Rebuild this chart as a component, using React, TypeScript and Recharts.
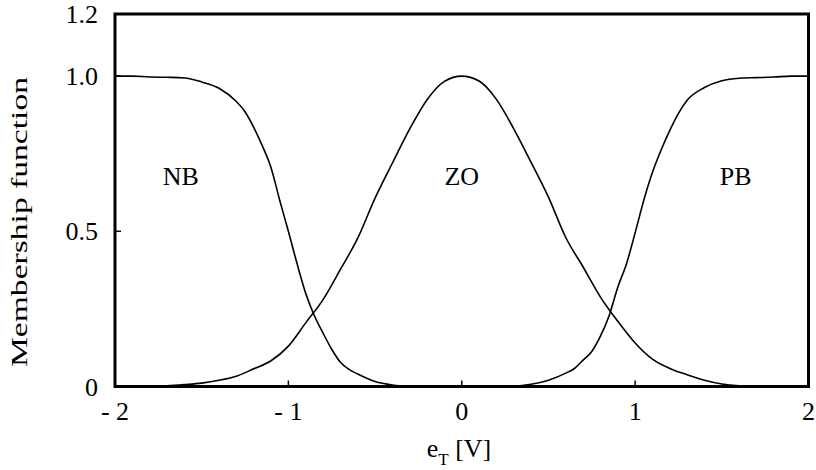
import { LineChart, Line, XAxis, YAxis, ReferenceArea, ReferenceDot } from "recharts";

// NB: negative big, sampled more densely along its steep flank
const nbX = [
  -2, -1.9, -1.8, -1.7, -1.6, -1.5, -1.4, -1.3, -1.25, -1.2, -1.15, -1.1, -1.05, -1, -0.95, -0.9, -0.85, -0.8, -0.75,
  -0.7, -0.65, -0.6, -0.5, -0.4, -0.3, -0.2, 0, 1, 2,
];
const nbY = [
  1, 1, 0.997, 0.996, 0.994, 0.981, 0.961, 0.918, 0.885, 0.835, 0.775, 0.705, 0.6, 0.5, 0.396, 0.3, 0.228, 0.172, 0.12,
  0.078, 0.055, 0.04, 0.016, 0.005, 0.001, 0, 0, 0, 0,
];

// ZO: zero
const zoX = [
  -2, -1.9, -1.8, -1.7, -1.6, -1.5, -1.4, -1.3, -1.2, -1.1, -1, -0.9, -0.8, -0.7, -0.6, -0.5, -0.4, -0.3, -0.2, -0.1,
  0, 0.1, 0.2, 0.3, 0.4, 0.5, 0.6, 0.7, 0.8, 0.9, 1, 1.1, 1.2, 1.3, 1.4, 1.5, 1.6, 1.7, 1.8, 1.9, 2,
];
const zoY = [
  0, 0, 0, 0.002, 0.006, 0.011, 0.02, 0.033, 0.057, 0.083, 0.13, 0.205, 0.28, 0.377, 0.478, 0.607, 0.72, 0.83, 0.924, 0.983,
  1, 0.984, 0.925, 0.83, 0.722, 0.61, 0.48, 0.385, 0.288, 0.21, 0.14, 0.088, 0.058, 0.038, 0.02, 0.008, 0.002, 0, 0, 0, 0,
];

// PB: positive big
const pbX = [
  -2, -1, 0, 0.2, 0.3, 0.4, 0.5, 0.6, 0.65, 0.7, 0.75, 0.8, 0.85, 0.9, 0.95, 1, 1.05, 1.1, 1.15, 1.2, 1.25, 1.3, 1.4,
  1.5, 1.6, 1.7, 1.8, 1.9, 2,
];
const pbY = [
  0, 0, 0, 0, 0.001, 0.007, 0.02, 0.043, 0.058, 0.085, 0.113, 0.162, 0.228, 0.32, 0.395, 0.495, 0.6, 0.69, 0.762, 0.825,
  0.88, 0.922, 0.963, 0.985, 0.993, 0.995, 0.997, 1, 1,
];

const xTicks = [-2, -1, 0, 1, 2];
const xTickLabels = ["- 2", "- 1", "0", "1", "2"];
const yTicks = [0, 0.5, 1.0, 1.2];
const yTickLabels = ["0", "0.5", "1.0", "1.2"];

const setNames = ["NB", "ZO", "PB"];
const setCenters = [-1.62, 0, 1.58];
const setLabelLevel = 0.68;

const toPoints = (xs: number[], ys: number[]) => xs.map((x, i) => ({ x, y: ys[i] }));
const nbData = toPoints(nbX, nbY);
const zoData = toPoints(zoX, zoY);
const pbData = toPoints(pbX, pbY);

const serif = { fontFamily: "'Liberation Serif', 'Times New Roman', Times, serif" };

const XTick = ({ x, y, payload }: any) => (
  <text x={x} y={y} textAnchor="middle" style={serif} fontSize={26} fill="#000">
    {xTickLabels[xTicks.indexOf(payload.value)]}
  </text>
);

const YTick = ({ x, y, payload }: any) => (
  <text x={x} y={y} dy={9} textAnchor="end" style={serif} fontSize={26} fill="#000">
    {yTickLabels[yTicks.indexOf(payload.value)]}
  </text>
);

const NoTick = () => null;

const YTitle = () => (
  <text
    transform="translate(27, 222) rotate(-90)"
    textAnchor="middle"
    textLength={290}
    lengthAdjust="spacingAndGlyphs"
    style={serif}
    fontSize={24}
    fill="#000"
  >
    Membership function
  </text>
);

const XTitle = () => (
  <text x={459} y={457} textAnchor="middle" style={serif} fontSize={26} fill="#000">
    e
    <tspan dy={8} fontSize={17}>T</tspan>
    <tspan dy={-8}> [V]</tspan>
  </text>
);

const tickStroke = { stroke: "#000", strokeWidth: 1.5 };

export default function App() {
  return (
    <div style={{ position: "absolute", left: 0, top: 0, background: "#fff" }}>
      <LineChart width={816} height={470} margin={{ top: 14, right: 7.5, bottom: 23.5, left: 55 }}>
        <XAxis
          dataKey="x"
          type="number"
          domain={[-2, 2]}
          ticks={xTicks}
          interval={0}
          axisLine={false}
          tickLine={tickStroke}
          tickSize={-6}
          tickMargin={39.5}
          tick={XTick}
          height={60}
          label={{ content: XTitle }}
        />
        <XAxis
          xAxisId="top"
          orientation="top"
          dataKey="x"
          type="number"
          domain={[-2, 2]}
          ticks={xTicks}
          interval={0}
          axisLine={false}
          tickLine={tickStroke}
          tickSize={-6}
          tick={NoTick}
          height={0}
        />
        <YAxis
          type="number"
          domain={[0, 1.2]}
          ticks={yTicks}
          interval={0}
          axisLine={false}
          tickLine={tickStroke}
          tickSize={-6}
          tickMargin={23}
          tick={YTick}
          width={60}
          label={{ content: YTitle }}
        />
        <YAxis
          yAxisId="right"
          orientation="right"
          type="number"
          domain={[0, 1.2]}
          ticks={yTicks}
          interval={0}
          axisLine={false}
          tickLine={tickStroke}
          tickSize={-6}
          tick={NoTick}
          width={0}
        />
        <Line data={nbData} type="monotone" dataKey="y" stroke="#000" strokeWidth={1.6} dot={false} isAnimationActive={false} />
        <Line data={zoData} type="monotone" dataKey="y" stroke="#000" strokeWidth={1.6} dot={false} isAnimationActive={false} />
        <Line data={pbData} type="monotone" dataKey="y" stroke="#000" strokeWidth={1.6} dot={false} isAnimationActive={false} />
        {setNames.map((name, i) => (
          <ReferenceDot
            key={name}
            x={setCenters[i]}
            y={setLabelLevel}
            r={0}
            fill="none"
            stroke="none"
            ifOverflow="visible"
            label={{ value: name, position: "center", style: serif, fontSize: 26, fill: "#000" }}
          />
        ))}
        <ReferenceArea
          x1={-2}
          x2={2}
          y1={0}
          y2={1.2}
          fill="none"
          fillOpacity={0}
          stroke="#000"
          strokeWidth={3}
          ifOverflow="visible"
        />
      </LineChart>
    </div>
  );
}
